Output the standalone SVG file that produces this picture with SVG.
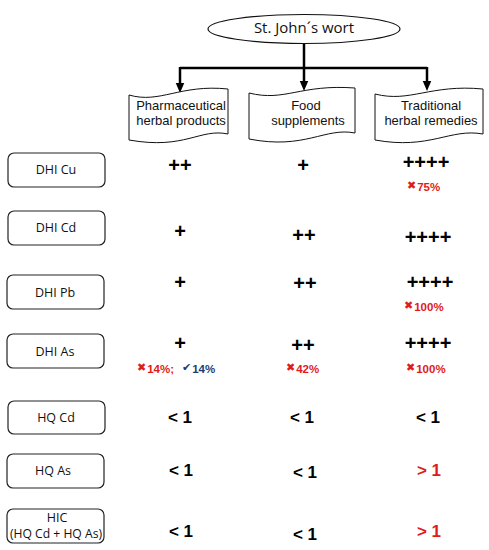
<svg xmlns="http://www.w3.org/2000/svg" width="489" height="550" viewBox="0 0 489 550">
<defs>
<style>
.lbl{fill:#fff;stroke:#222;stroke-width:1.2}
.lt{font-family:"Open Sans","Liberation Sans",sans-serif;font-size:12.5px;fill:#111;text-anchor:middle}
.doc{fill:#fff;stroke:#111;stroke-width:1}
.dt{font-family:"Liberation Sans",Arial,sans-serif;font-size:13px;fill:#111;text-anchor:middle}
.pl{font-family:"Liberation Sans",Arial,sans-serif;font-weight:bold;font-size:20px;fill:#000;text-anchor:middle}
.q{font-family:"Liberation Sans",Arial,sans-serif;font-weight:bold;font-size:17px;fill:#000;text-anchor:middle}
.qr{fill:#e01b1b}
.pc{font-family:"Liberation Sans",Arial,sans-serif;font-weight:bold;font-size:11.5px;fill:#e01b1b}
.pb{fill:#1f3d72}
.ic{font-family:"DejaVu Sans",sans-serif;font-size:11px}
.conn{stroke:#000;stroke-width:2.5;fill:none}
</style>
<marker id="ah" markerWidth="4" markerHeight="4" refX="2" refY="2" orient="auto" markerUnits="strokeWidth">
<path d="M0,0.3 L4,2 L0,3.7 Z" fill="#000"/>
</marker>
</defs>
<rect width="489" height="550" fill="#fff"/>

<g id="connectors">
<path class="conn" d="M304,43 V68"/>
<path class="conn" d="M180,68 H427"/>
<path class="conn" d="M180,67 V88" marker-end="url(#ah)"/>
<path class="conn" d="M304,68 V86" marker-end="url(#ah)"/>
<path class="conn" d="M427,67 V86" marker-end="url(#ah)"/>
</g>

<g id="root">
<ellipse cx="304" cy="29" rx="96" ry="14.5" fill="#fff" stroke="#111" stroke-width="1.2"/>
<text x="304" y="33" font-family="Open Sans, Liberation Sans, sans-serif" font-size="15" text-anchor="middle" fill="#111">St. John´s wort</text>
</g>

<g id="doc-pharma">
<path class="doc" d="M129,95 C160,104 180,84 228,89 L228,134 C200,128 185,150 129,140 Z"/>
<text class="dt" x="181" y="110">Pharmaceutical</text>
<text class="dt" x="181" y="125">herbal products</text>
</g>
<g id="doc-food">
<path class="doc" d="M249,93 C285,102 300,84 355,88 L355,133 C325,127 305,150 249,139 Z"/>
<text class="dt" x="306" y="110">Food</text>
<text class="dt" x="308" y="125">supplements</text>
</g>
<g id="doc-trad">
<path class="doc" d="M375,94 C410,103 430,84 483,89 L483,134 C450,128 430,150 375,140 Z"/>
<text class="dt" x="431" y="110">Traditional</text>
<text class="dt" x="431" y="125">herbal remedies</text>
</g>

<g id="lbl-dhi-cu"><rect class="lbl" x="8" y="153" width="97" height="34" rx="6"/><text class="lt" x="56" y="174">DHI Cu</text></g>
<g id="lbl-dhi-cd"><rect class="lbl" x="8" y="211" width="97" height="34" rx="6"/><text class="lt" x="56" y="232">DHI Cd</text></g>
<g id="lbl-dhi-pb"><rect class="lbl" x="7" y="275" width="97" height="34" rx="6"/><text class="lt" x="55" y="297">DHI Pb</text></g>
<g id="lbl-dhi-as"><rect class="lbl" x="7" y="334" width="97" height="34" rx="6"/><text class="lt" x="55" y="356">DHI As</text></g>
<g id="lbl-hq-cd"><rect class="lbl" x="8" y="401" width="97" height="33" rx="6"/><text class="lt" x="56" y="422">HQ Cd</text></g>
<g id="lbl-hq-as"><rect class="lbl" x="7" y="454" width="97" height="34" rx="6"/><text class="lt" x="53" y="475">HQ As</text></g>
<g id="lbl-hic"><rect class="lbl" x="7" y="509" width="97" height="34" rx="6"/><text class="lt" x="57" y="522" font-size="12">HIC</text><text class="lt" x="56" y="538" font-size="11" textLength="92" lengthAdjust="spacingAndGlyphs">(HQ Cd + HQ As)</text></g>

<g id="values">
<text class="pl" x="180" y="172">++</text>
<text class="pl" x="303" y="172">+</text>
<text class="pl" x="426" y="169">++++</text>
<text class="pc" x="407" y="191"><tspan class="ic" dy="-2">✖</tspan><tspan dx="1" dy="2">75%</tspan></text>

<text class="pl" x="180" y="238">+</text>
<text class="pl" x="304" y="242">++</text>
<text class="pl" x="428" y="244">++++</text>

<text class="pl" x="180" y="289">+</text>
<text class="pl" x="305" y="290">++</text>
<text class="pl" x="430" y="289">++++</text>
<text class="pc" x="404" y="311"><tspan class="ic" dy="-2">✖</tspan><tspan dx="1" dy="2">100%</tspan></text>

<text class="pl" x="180" y="350">+</text>
<text class="pl" x="303" y="352">++</text>
<text class="pl" x="428" y="350">++++</text>
<text class="pc" x="137" y="373"><tspan class="ic" dy="-2">✖</tspan><tspan dx="1" dy="2">14%;</tspan></text>
<text class="pc pb" x="182" y="373"><tspan class="ic" font-size="13" dy="-2">✔</tspan><tspan dx="1" dy="2">14%</tspan></text>
<text class="pc" x="286" y="373"><tspan class="ic" dy="-2">✖</tspan><tspan dx="1" dy="2">42%</tspan></text>
<text class="pc" x="406" y="373"><tspan class="ic" dy="-2">✖</tspan><tspan dx="1" dy="2">100%</tspan></text>

<text class="q" x="180" y="423">&lt; 1</text>
<text class="q" x="302" y="423">&lt; 1</text>
<text class="q" x="428" y="423">&lt; 1</text>

<text class="q" x="181" y="476">&lt; 1</text>
<text class="q" x="305" y="478">&lt; 1</text>
<text class="q qr" x="429" y="476">&gt; 1</text>

<text class="q" x="181" y="537">&lt; 1</text>
<text class="q" x="305" y="540">&lt; 1</text>
<text class="q qr" x="429" y="537">&gt; 1</text>
</g>
</svg>
